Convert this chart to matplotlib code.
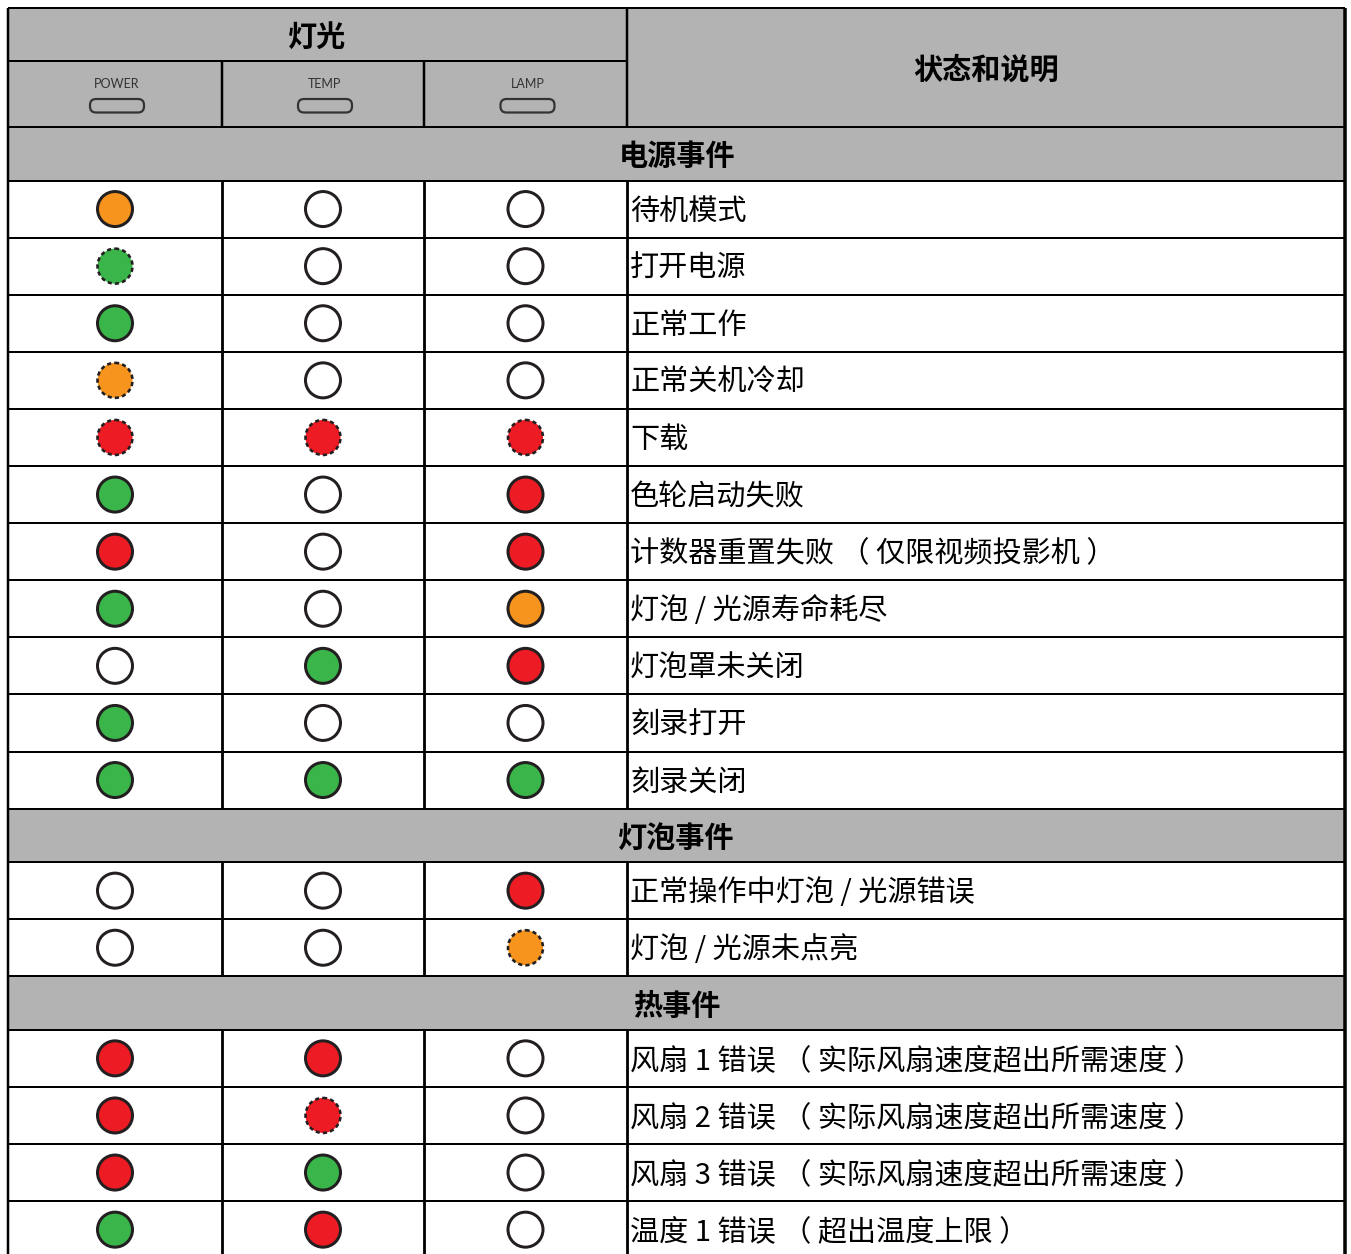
import matplotlib
matplotlib.use('Agg')
import matplotlib.pyplot as plt
from matplotlib.patches import Rectangle, Circle, FancyBboxPatch

plt.rcParams['font.family'] = ['Noto Sans CJK SC', 'DejaVu Sans']

# --- données du tableau ---
led_names = ['POWER', 'TEMP', 'LAMP']
header_left = '灯光'
header_right = '状态和说明'

# codes: O/G/R = allumé fixe, o/g/r = clignotant, - = éteint
sections = ['电源事件', '灯泡事件', '热事件']
power_rows = ['待机模式', '打开电源', '正常工作', '正常关机冷却', '下载', '色轮启动失败',
              '计数器重置失败 （ 仅限视频投影机 ）', '灯泡 / 光源寿命耗尽', '灯泡罩未关闭',
              '刻录打开', '刻录关闭']
power_leds = [['O', '-', '-'], ['g', '-', '-'], ['G', '-', '-'], ['o', '-', '-'],
              ['r', 'r', 'r'], ['G', '-', 'R'], ['R', '-', 'R'], ['G', '-', 'O'],
              ['-', 'G', 'R'], ['G', '-', '-'], ['G', 'G', 'G']]
lamp_rows = ['正常操作中灯泡 / 光源错误', '灯泡 / 光源未点亮']
lamp_leds = [['-', '-', 'R'], ['-', '-', 'o']]
thermal_rows = ['风扇 1 错误 （ 实际风扇速度超出所需速度 ）', '风扇 2 错误 （ 实际风扇速度超出所需速度 ）',
                '风扇 3 错误 （ 实际风扇速度超出所需速度 ）', '温度 1 错误 （ 超出温度上限 ）']
thermal_leds = [['R', 'R', '-'], ['R', 'r', '-'], ['R', 'G', '-'], ['G', 'R', '-']]

# --- mise en page (pixels) ---
W, H = 1351, 1254
col_x = [8, 222, 424, 627, 1345]
top = 8
h_head1, h_head2, h_sec, h_row = 53, 66, 53.5, 57.1
text_dy = 2.5
gray = '#b3b3b3'
led_colors = {'O': '#f7941d', 'G': '#3ab54a', 'R': '#ed1c24'}
px = 72 / 100  # 1 pixel en points

fig = plt.figure(figsize=(W / 100, H / 100), dpi=100)
ax = fig.add_axes([0, 0, 1, 1])
ax.set_xlim(0, W)
ax.set_ylim(H, 0)
ax.axis('off')

def hline(y, x0=col_x[0], x1=col_x[-1], lw=2):
    ax.plot([x0, x1], [y, y], color='black', lw=lw * px, solid_capstyle='butt', zorder=3)

def vline(x, y0, y1, lw=2.5):
    ax.plot([x, x], [y0, y1], color='black', lw=lw * px, solid_capstyle='butt', zorder=3)

def draw_led(cx, cy, code):
    r = 17.5
    if code == '-':
        ax.add_patch(Circle((cx, cy), r, facecolor='white', edgecolor='#231f20', lw=3 * px, zorder=4))
    elif code.isupper():
        ax.add_patch(Circle((cx, cy), r, facecolor=led_colors[code], edgecolor='#231f20', lw=3 * px, zorder=4))
    else:
        ax.add_patch(Circle((cx, cy), r, facecolor=led_colors[code.upper()], edgecolor='none', zorder=4))
        ax.add_patch(Circle((cx, cy), r, facecolor='none', edgecolor='#231f20', lw=2.6 * px,
                            linestyle=(0, (1.6, 1.2)), zorder=5))

# en-tête
y = top
ax.add_patch(Rectangle((col_x[0], y), col_x[-1] - col_x[0], h_head1 + h_head2, facecolor=gray, edgecolor='none', zorder=1))
ax.text((col_x[0] + col_x[3]) / 2, y + h_head1 / 2 + text_dy, header_left, ha='center', va='center',
        fontsize=21, fontweight='bold', zorder=5)
ax.text((col_x[3] + col_x[4]) / 2, y + (h_head1 + h_head2) / 2 + text_dy, header_right, ha='center', va='center',
        fontsize=21, fontweight='bold', zorder=5)
hline(y)
hline(y + h_head1, col_x[0], col_x[3])
for i, name in enumerate(led_names):
    cx = (col_x[i] + col_x[i + 1]) / 2 + 2
    ax.text(cx, y + h_head1 + 22.5, name, ha='center', va='center', fontsize=9,
            family=['Lato', 'DejaVu Sans'], color='#333333', zorder=5)
    ax.add_patch(FancyBboxPatch((cx - 27, y + h_head1 + 38), 54, 13.5,
                                boxstyle='round,pad=0,rounding_size=6',
                                facecolor=gray, edgecolor='#333333', lw=2.2 * px, zorder=4))
for x in col_x[1:3]:
    vline(x, y + h_head1, y + h_head1 + h_head2)
y += h_head1 + h_head2
header_bottom = y

all_rows = [power_rows, lamp_rows, thermal_rows]
all_leds = [power_leds, lamp_leds, thermal_leds]

for sec, rows, leds in zip(sections, all_rows, all_leds):
    hline(y)
    ax.add_patch(Rectangle((col_x[0], y), col_x[-1] - col_x[0], h_sec, facecolor=gray, edgecolor='none', zorder=1))
    ax.text((col_x[0] + col_x[-1]) / 2, y + h_sec / 2 + text_dy, sec, ha='center', va='center',
            fontsize=21, fontweight='bold', zorder=5)
    y += h_sec
    for label, states in zip(rows, leds):
        hline(y)
        for i, code in enumerate(states):
            cx = (col_x[i] + col_x[i + 1]) / 2
            draw_led(cx, y + h_row / 2, code)
        ax.text(col_x[3] + 3, y + h_row / 2 + text_dy, label, ha='left', va='center', fontsize=21, zorder=5)
        for x in col_x[1:4]:
            vline(x, y, y + h_row, lw=2.8)
        y += h_row
    hline(y)

# bordures extérieures et séparation colonne description
vline(col_x[0], top, H + 10, lw=2.5)
vline(col_x[-1], top, H + 10, lw=3.5)
vline(col_x[3], top, header_bottom, lw=2.5)

fig.savefig('out.png', dpi=100)
